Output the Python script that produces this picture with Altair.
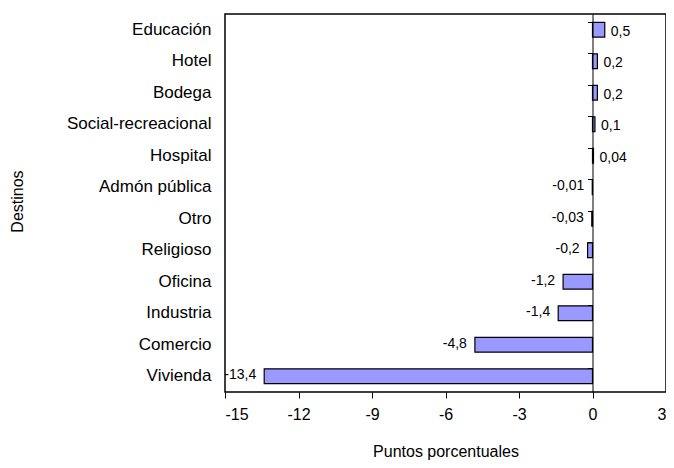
import altair as alt
import pandas as pd

categories = ["Educación", "Hotel", "Bodega", "Social-recreacional", "Hospital",
              "Admón pública", "Otro ", "Religioso", "Oficina", "Industria",
              "Comercio", "Vivienda"]
values = [0.5, 0.2, 0.2, 0.1, 0.04, -0.01, -0.03, -0.2, -1.2, -1.4, -4.8, -13.4]
x_ticks = [-15, -12, -9, -6, -3, 0, 3]

df = pd.DataFrame({"cat": categories, "v": values})
df["label"] = [str(v).replace(".", ",") for v in values]

FONT = "Liberation Sans"
W, H = 441, 378

xscale = alt.Scale(domain=[-15, 3], nice=False, zero=False)
ysort = categories

x_axis = alt.Axis(values=x_ticks, title="Puntos porcentuales", grid=False,
                  domain=False, ticks=True, tickSize=6, tickColor="black",
                  tickWidth=1, labelFontSize=16, labelFont=FONT,
                  labelColor="black", labelPadding=8,
                  labelExpr="datum.value < 0 ? '-' + abs(datum.value) : '' + datum.value",
                  titleFont=FONT,
                  titleFontSize=16, titleFontWeight="normal", titleColor="black",
                  titlePadding=21)

y_axis_labels = alt.Axis(orient="left", title="Destinos", ticks=False, domain=False,
                         labelFontSize=17, labelFont=FONT, labelColor="black",
                         labelPadding=14, titleFont=FONT, titleFontSize=16,
                         titleFontWeight="normal", titleColor="black",
                         titleX=-208, titleY=H / 2 - 2, titleAngle=-90,
                         titleBaseline="middle", titleAlign="center", grid=False)

y_axis_zero = alt.Axis(orient="left", title=None, labels=False, ticks=True,
                       bandPosition=0, tickSize=5, tickColor="black",
                       domain=True, domainColor="black", domainWidth=1,
                       offset=-(W * 15 / 18), grid=False, zindex=1)

base = alt.Chart(df)

bars = base.mark_bar(fill="#9999FF", stroke="black", strokeWidth=1.2).encode(
    x=alt.X("v:Q", scale=xscale, axis=x_axis),
    y=alt.Y("cat:N", sort=ysort, axis=y_axis_labels,
            scale=alt.Scale(paddingInner=0.53, paddingOuter=0.265)),
)

pos_text = base.transform_filter("datum.v >= 0").mark_text(
    align="left", baseline="middle", dx=6, dy=2, fontSize=14, font=FONT, color="black"
).encode(
    x=alt.X("v:Q", scale=xscale),
    y=alt.Y("cat:N", sort=ysort, axis=y_axis_zero),
    text="label:N",
)

neg_text = base.transform_filter("datum.v < 0").mark_text(
    align="right", baseline="middle", dx=-8, dy=-1, fontSize=14, font=FONT, color="black"
).encode(
    x=alt.X("v:Q", scale=xscale),
    y=alt.Y("cat:N", sort=ysort, axis=None),
    text="label:N",
)

chart = alt.layer(bars, pos_text, neg_text).resolve_axis(y="independent").properties(
    width=W, height=H,
    background="white",
    autosize=alt.AutoSizeParams(type="none"),
    padding={"left": 217, "top": 6, "right": 0, "bottom": 72},
).configure_view(stroke="black", strokeWidth=1.5)

chart.save("out.html", embed_options={"renderer": "svg", "actions": False})
